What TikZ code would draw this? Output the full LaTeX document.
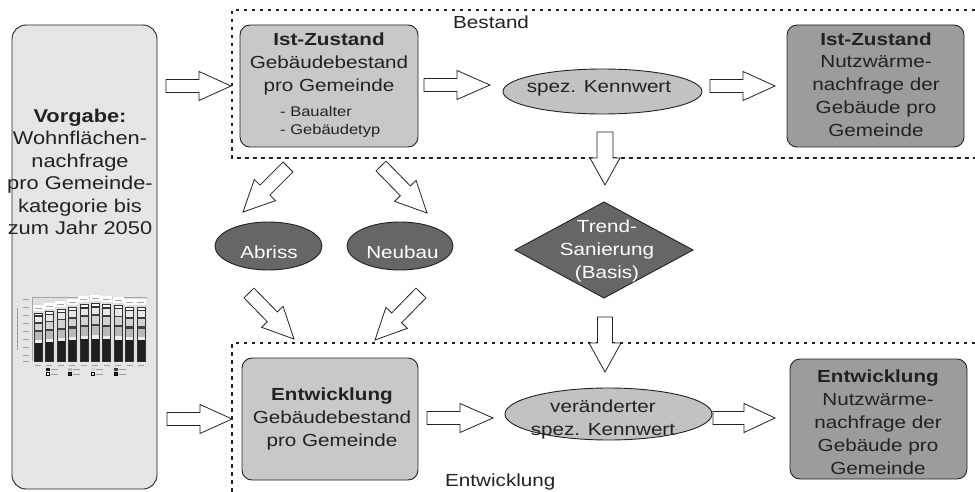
\documentclass[tikz,border=0pt]{standalone}
\usepackage{fontspec}
\setmainfont{Liberation Sans}[FakeStretch=1.18]
\usetikzlibrary{shapes.geometric,calc}

\definecolor{ink}{HTML}{222222}
\definecolor{pale}{HTML}{E5E5E5}
\definecolor{midgray}{HTML}{C8C8C8}
\definecolor{ovalgray}{HTML}{C2C2C2}
\definecolor{deepgray}{HTML}{9C9C9C}
\definecolor{darkgray}{HTML}{666666}

% hollow block arrow: #1 shaft half-width, #2 head half-width,
% #3 head length, #4 tail coordinate, #5 tip coordinate
\newcommand\blockarrow[5]{%
  \draw[blockarrow] let \p1=(#4), \p2=(#5),
      \n1={atan2(\y2-\y1,\x2-\x1)},
      \n2={veclen(\x2-\x1,\y2-\y1)-#3pt} in
    ($(\p1)+(\n1+90:#1pt)$) -- ($(\p1)+(\n1:\n2)+(\n1+90:#1pt)$)
    -- ($(\p1)+(\n1:\n2)+(\n1+90:#2pt)$) -- (\p2)
    -- ($(\p1)+(\n1:\n2)+(\n1-90:#2pt)$) -- ($(\p1)+(\n1:\n2)+(\n1-90:#1pt)$)
    -- ($(\p1)+(\n1-90:#1pt)$) -- cycle;}

\begin{document}
\begin{tikzpicture}[x=1pt,y=-1pt,
  panel/.style={draw=ink, line width=0.9pt, inner sep=0pt, outer sep=0pt},
  boxshape/.style={panel, rectangle, rounded corners=10pt},
  oval/.style={panel, ellipse},
  txt/.style={inner sep=0pt, text=ink, align=center, font=\fontsize{17.5}{23}\selectfont},
  smalltxt/.style={inner sep=0pt, text=ink, align=left, font=\fontsize{14}{18}\selectfont},
  dashedframe/.style={draw=ink, line width=1.1pt, dash pattern=on 3.5pt off 4.5pt},
  blockarrow/.style={draw=ink, fill=white, line width=0.8pt, line join=miter},
  chartmark/.style={draw=gray!75, line width=0.7pt}]

\useasboundingbox (0,0) rectangle (975,492);
\fill[white] (0,0) rectangle (975,492);

% frames of the two sections
\draw[dashedframe] (975,10) -- (232,10) -- (232,158) -- (975,158);
\draw[dashedframe] (975,343) -- (232,343) -- (232,492);
\node[txt, anchor=base west] (bestandlabel) at (453,29) {Bestand};
\node[txt, anchor=base west] (entwlabel) at (445,486) {Entwicklung};

% input column
\node[panel, rectangle, rounded corners=14pt, fill=pale,
      minimum width=145, minimum height=464] (vorgabe) at (84.5,257) {};
\node[txt, font=\fontsize{18.5}{22.5}\selectfont] (vorgabetxt) at (80,173.8)
  {\strut\textbf{Vorgabe:}\\Wohnflächen-\\nachfrage\\pro Gemeinde-\\kategorie bis\\zum Jahr 2050\strut};

% small stacked bar chart inside the input column
\begin{scope}
  \fill[gray!25] (32,297) rectangle (147,361);
  \draw[gray!70, line width=0.5pt] (32,361) -- (32,297) -- (147,297);
  \draw[chartmark] (17,308) -- (17,350);
  \foreach \yy in {299,307,315,323,331,339,347,355,361}
    \draw[chartmark, line width=0.5pt] (23,\yy) -- (29,\yy);
  \foreach \i/\tp in {0/313,1/311,2/309,3/307,4/304,5/303,6/304,7/305,8/307,9/307} {
    \pgfmathsetmacro\bx{38+\i*11.44}
    \pgfmathsetmacro\bh{361-\tp}
    \foreach \a/\b/\c in {0/.38/black!88, .38/.44/gray!15, .44/.60/gray!55,
                          .60/.64/black!75, .64/.78/gray!35, .78/.81/black!75,
                          .81/.92/gray!18, .92/.95/black!80, .95/1/white}
      \fill[\c] (\bx-4,{361-\a*\bh}) rectangle (\bx+4,{361-\b*\bh});
    \draw[black!80, line width=0.3pt] (\bx-4,361) rectangle (\bx+4,\tp);
    \fill[white] (\bx-5.5,\tp-8) rectangle (\bx+5.5,\tp-2);
    \draw[gray!70, line width=0.6pt] (\bx-3.5,\tp-5) -- (\bx+3.5,\tp-5);
    \draw[chartmark, line width=0.6pt] (\bx-3,365) -- (\bx+3,365);
  }
  \foreach \lx/\ca/\cb in {48/black!88/white, 70/gray!55/black!75, 93/gray!35/gray!18, 116/black!75/black!80} {
    \fill[\ca] (\lx-2,367.5) rectangle (\lx+1.5,370.5);
    \draw[chartmark, line width=0.6pt] (\lx+3,369) -- (\lx+10,369);
    \filldraw[fill=\cb, draw=black, line width=0.3pt] (\lx-2,372.5) rectangle (\lx+1.5,375.5);
    \draw[chartmark, line width=0.6pt] (\lx+3,374) -- (\lx+10,374);
  }
\end{scope}

% current state
\node[boxshape, fill=midgray, minimum width=178, minimum height=122] (ist) at (329,86) {};
\node[txt] (isttxt) at (329,64.4)
  {\strut\textbf{Ist-Zustand}\\Gebäudebestand\\pro Gemeinde\strut};
\node[smalltxt, anchor=west] (istlist) at (280,122.4)
  {\strut- Baualter\\- Gebäudetyp\strut};

\node[oval, fill=ovalgray, minimum width=199, minimum height=45] (kennwert) at (602.5,91.5) {};
\node[txt, anchor=base] (kennwerttxt) at (599,92.7) {spez. Kennwert};

\node[boxshape, fill=deepgray, minimum width=177, minimum height=122] (istnw) at (875.5,86) {};
\node[txt] (istnwtxt) at (876,86.4)
  {\strut\textbf{Ist-Zustand}\\Nutzwärme-\\nachfrage der\\Gebäude pro\\Gemeinde\strut};

% middle row
\node[panel, ellipse, fill=darkgray, minimum width=107, minimum height=48] (abriss) at (268.5,246) {};
\node[txt, text=white, anchor=base] (abrisstxt) at (269,258) {Abriss};
\node[panel, ellipse, fill=darkgray, minimum width=106, minimum height=48] (neubau) at (400,246) {};
\node[txt, text=white, anchor=base] (neubautxt) at (402.5,258) {Neubau};
\node[panel, diamond, fill=darkgray, minimum width=178, minimum height=96] (trend) at (604,250) {};
\node[txt, text=white] (trendtxt) at (607,250.4)
  {\strut Trend-\\Sanierung\\(Basis)\strut};

% development
\node[boxshape, fill=midgray, minimum width=176, minimum height=122] (entw) at (330,419) {};
\node[txt] (entwtxt) at (332,418.8)
  {\strut\textbf{Entwicklung}\\Gebäudebestand\\pro Gemeinde\strut};

\node[oval, fill=ovalgray, minimum width=207, minimum height=52] (kennwertneu) at (608.5,414) {};
\node[txt] (kennwertneutxt) at (603,418.9)
  {\strut veränderter\\spez. Kennwert\strut};

\node[boxshape, fill=deepgray, minimum width=177, minimum height=120] (entwnw) at (878.5,419) {};
\node[txt] (entwnwtxt) at (878,424)
  {\strut\textbf{Entwicklung}\\Nutzwärme-\\nachfrage der\\Gebäude pro\\Gemeinde\strut};

% arrow end points
\coordinate (a1s) at (166,86);  \coordinate (a1e) at (231,86);
\coordinate (a2s) at (424,85);  \coordinate (a2e) at (490,85);
\coordinate (a3s) at (710,86);  \coordinate (a3e) at (775,86);
\coordinate (a4s) at (605,132); \coordinate (a4e) at (605,185);
\coordinate (d1s) at (288,167); \coordinate (d1e) at (243,212);
\coordinate (d2s) at (381,166); \coordinate (d2e) at (427,213);
\coordinate (d3s) at (249,293); \coordinate (d3e) at (294,339);
\coordinate (d4s) at (421,293); \coordinate (d4e) at (375,340);
\coordinate (a5s) at (167,419); \coordinate (a5e) at (232,419);
\coordinate (a6s) at (427,418); \coordinate (a6e) at (493,418);
\coordinate (a7s) at (605,317); \coordinate (a7e) at (605,372);
\coordinate (a8s) at (713,418); \coordinate (a8e) at (775,418);

\blockarrow{6.5}{14.5}{32}{a1s}{a1e}
\blockarrow{6.5}{14.5}{33}{a2s}{a2e}
\blockarrow{6.5}{14.5}{32}{a3s}{a3e}
\blockarrow{8}{15}{27}{a4s}{a4e}
\blockarrow{7}{15}{31}{d1s}{d1e}
\blockarrow{7}{15}{31}{d2s}{d2e}
\blockarrow{7}{15}{31}{d3s}{d3e}
\blockarrow{7}{15}{31}{d4s}{d4e}
\blockarrow{6.5}{14.5}{32}{a5s}{a5e}
\blockarrow{6.5}{14.5}{33}{a6s}{a6e}
\blockarrow{7.5}{16}{29}{a7s}{a7e}
\blockarrow{6.5}{14.5}{31}{a8s}{a8e}

\end{tikzpicture}
\end{document}
